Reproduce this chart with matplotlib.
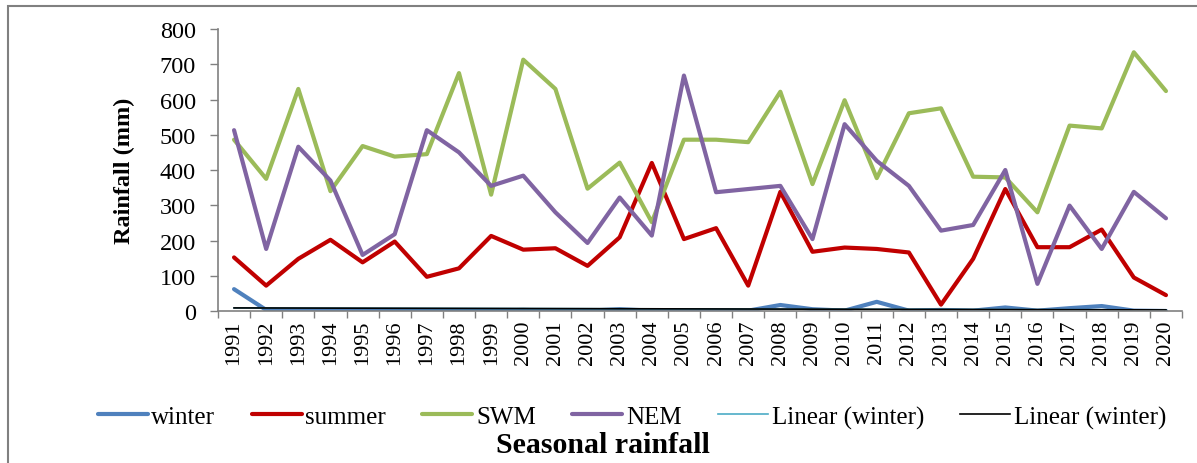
import matplotlib.pyplot as plt
import matplotlib.patches as patches
import numpy as np

years = list(range(1991, 2021))
winter = [62, 3, 2, 2, 1, 1, 1, 1, 1, 3, 1, 1, 5, 1, 2, 1, 1, 17, 5, 1,
          26, 1, 3, 1, 10, 1, 8, 14, 1, 0]
summer = [152, 72, 148, 202, 138, 197, 97, 121, 213, 174, 178, 128, 209, 420, 204, 235, 72, 338, 168, 180,
          176, 166, 18, 148, 346, 181, 181, 231, 95, 45]
swm = [486, 375, 630, 340, 468, 438, 445, 675, 330, 713, 630, 347, 421, 252, 486, 486, 479, 622, 360, 598,
       377, 561, 575, 381, 379, 280, 526, 518, 734, 624]
nem = [513, 176, 466, 370, 159, 218, 513, 450, 355, 384, 280, 193, 322, 214, 668, 337, 346, 355, 204, 530,
       426, 355, 228, 244, 400, 77, 299, 176, 338, 263]

plt.rcParams['font.family'] = ['Liberation Serif', 'DejaVu Serif']

fig = plt.figure(figsize=(11.97, 4.64), dpi=100)
ax = fig.add_axes([0.1821, 0.3276, 0.8054, 0.6077])

x = np.arange(len(years))
ax.plot(x, winter, color='#4F81BD', lw=3, label='winter', solid_capstyle='round')
ax.plot(x, summer, color='#C00000', lw=3, label='summer', solid_capstyle='round')
ax.plot(x, swm, color='#9BBB59', lw=3, label='SWM', solid_capstyle='round')
ax.plot(x, nem, color='#8064A2', lw=3, label='NEM', solid_capstyle='round')

# trend line of winter rainfall (drawn twice, as in the original sheet)
fit = np.polyfit(x, winter, 1)
trend = np.polyval(fit, x)
ax.plot(x, trend, color='#4BACC6', lw=1.2, label='Linear (winter)')
ax.plot(x, trend, color='black', lw=1.2, label='Linear (winter)')

ax.set_xlim(-0.5, len(years) - 0.5)
ax.set_ylim(0, 800)
ax.set_yticks(range(0, 801, 100))
ax.set_xticks(x)
ax.set_xticklabels([str(y) for y in years], rotation=90, fontsize=16)
ax.set_xticks(np.arange(-0.5, len(years), 1), minor=True)
ax.tick_params(axis='x', which='major', length=0, pad=6)
ax.tick_params(axis='x', which='minor', length=5, color='#808080', width=1)
ax.tick_params(axis='y', length=6, color='#808080', width=1, labelsize=17.5, pad=10)

for s in ['top', 'right']:
    ax.spines[s].set_visible(False)
for s in ['left', 'bottom']:
    ax.spines[s].set_color('#808080')
    ax.spines[s].set_linewidth(1.2)

ax.set_ylabel('Rainfall (mm)', fontsize=17.5, fontweight='bold')
ax.yaxis.set_label_coords(-0.086, 0.5)

fig.legend(loc='center', bbox_to_anchor=(0.528, 0.099), ncol=6, frameon=False,
           fontsize=18, handlelength=2.0, handletextpad=0.15, columnspacing=1.45)
fig.text(0.504, 0.039, 'Seasonal rainfall', ha='center', va='center', fontsize=21.5, fontweight='bold')

fig.patches.append(patches.Rectangle((8 / 1197, -0.1), 1.2, 1 - 7 / 464 + 0.1, transform=fig.transFigure,
                                     fill=False, edgecolor='#808080', lw=1.5))

fig.savefig('out.png', dpi=100)
